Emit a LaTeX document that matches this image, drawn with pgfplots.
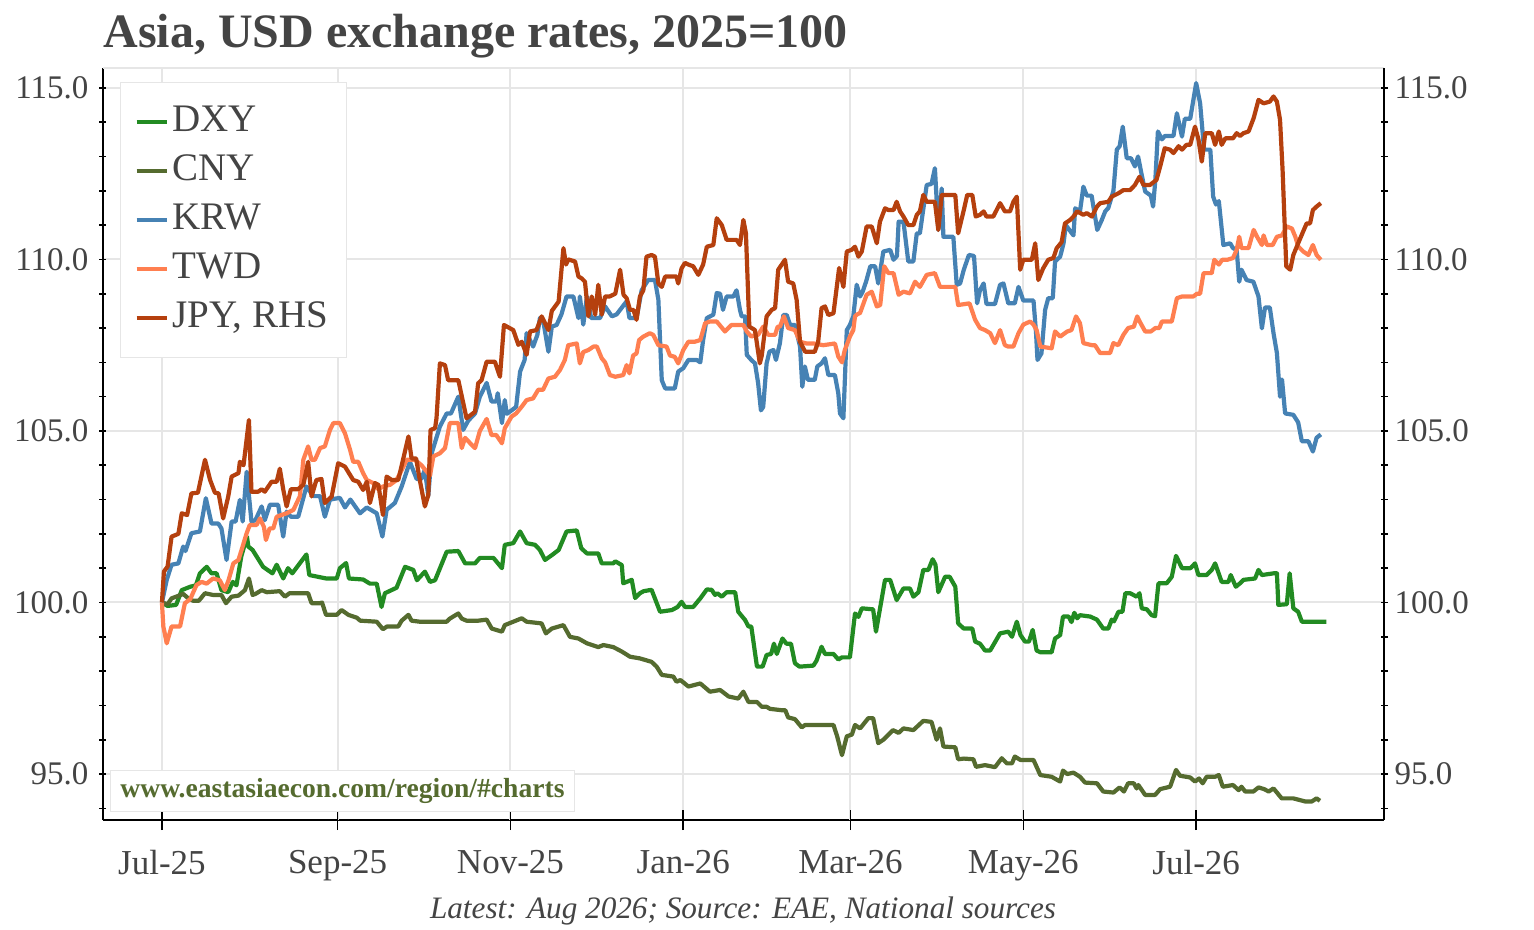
\documentclass[border=0pt]{standalone}
\usepackage{fontspec}
\setmainfont{Liberation Serif}
\usepackage{pgfplots}
\pgfplotsset{compat=1.18}
\usepackage{pgfplotstable}
\definecolor{dxy}{HTML}{228B22}
\definecolor{cny}{HTML}{556B2F}
\definecolor{krw}{HTML}{4682B4}
\definecolor{twd}{HTML}{FF7F50}
\definecolor{jpy}{HTML}{B5400E}
\definecolor{txt}{HTML}{444444}
\definecolor{gridc}{HTML}{E6E6E6}

\pgfplotstableread{
x y
0 100.0
2 99.9
5 99.93
7 100.36
10 100.46
12 100.5
13.4 100.85
15.8 101.04
17.5 100.85
19.3 100.85
21 100.36
23.4 100.3
25 100.6
26.3 100.5
28 101.34
30 101.92
30.5 101.63
32 101.53
35.7 101.04
39 100.85
40.5 101.1
42.8 100.7
44.5 101.0
46 100.85
51 101.4
52 100.8
58 100.7
61.7 100.7
62.8 101.0
65 101.15
66 100.7
71 100.67
73.4 100.55
75.8 100.55
77.5 99.87
78.7 100.27
82.8 100.43
85.8 101.04
88.7 100.95
90 100.65
92.8 100.9
94.6 100.6
96.4 100.65
100.5 101.48
104.6 101.5
107 101.14
110.5 101.14
112.2 101.3
117 101.3
120 101.0
121 101.68
124 101.73
126.4 102.07
128.7 101.73
131.7 101.68
133.4 101.53
135.2 101.24
137.6 101.38
140 101.53
142.8 102.07
146.4 102.1
148 101.58
150 101.43
154 101.43
155.2 101.14
159.3 101.14
160 101.2
162.3 101.09
162.8 100.56
165.8 100.66
167 100.13
168.7 100.27
170 100.33
172.8 100.37
175.8 99.73
180 99.78
182 99.87
183.4 100.02
184.6 99.87
187.5 99.87
190 100.12
192.3 100.38
194 100.37
195.2 100.22
196 100.27
197.6 100.17
199.3 100.3
202.3 100.3
203.4 99.73
205.8 99.49
207 99.3
208 99.3
210 98.13
212 98.13
213.4 98.47
215 98.5
216 98.8
217 98.5
219 98.95
220.4 98.8
222 98.8
223.4 98.23
225 98.13
229.9 98.16
231 98.3
232.8 98.71
234 98.5
237 98.5
238.7 98.34
240 98.4
242.8 98.4
244.6 99.68
245.8 99.58
247 99.83
251 99.8
252 99.15
255.2 100.66
257 100.66
259.3 100.07
261.7 100.41
264 100.41
265.2 100.17
267 100.3
268.7 100.95
270.5 100.95
272 101.26
273 101.1
274 100.3
276.4 100.75
278 100.75
280 100.46
281 99.39
283 99.24
286 99.24
287 98.86
288.7 98.8
290.5 98.6
292.3 98.6
295.8 99.1
298.7 99.15
300 99.0
301.7 99.44
303 99.05
304.6 98.86
306 98.86
307.3 99.2
308.7 98.6
310 98.55
314 98.55
315.2 98.95
317 99.05
318 99.59
320 99.59
321 99.43
322 99.7
323 99.54
324 99.63
327.6 99.59
330 99.5
332.2 99.24
334 99.24
335.2 99.5
336 99.45
337.6 99.73
339 99.73
340 100.27
341.7 100.27
344 100.17
345 100.27
345.8 99.83
347.6 99.8
349.3 99.63
350.5 99.6
351.7 100.56
354.6 100.56
356.4 100.75
357.9 101.36
360 101.0
363 101.0
364.6 101.14
365.8 100.8
368.7 100.8
370.5 100.95
371.7 101.14
374 100.6
376.4 100.6
377.2 100.8
379 100.46
380.5 100.56
381.7 100.66
385.8 100.7
387 100.95
388.2 100.8
392.3 100.85
393.5 100.85
394 99.93
397 99.95
398 100.85
399.3 99.83
401 99.73
402.3 99.44
411 99.44
}\dxy

\pgfplotstableread{
x y
0 100.0
2 99.95
3.4 100.12
6 100.2
7.5 100.25
9.3 100.12
11 100.05
13 100.05
15.2 100.27
18 100.22
21 100.22
22.6 99.98
24.6 100.17
27 100.2
29.3 100.36
30.7 100.7
32 100.22
33 100.25
35.2 100.36
37 100.3
41.6 100.33
43.4 100.17
45 100.27
51.6 100.27
52.8 99.98
55.8 99.98
56.5 100.0
57.9 99.64
61.7 99.64
63.4 99.78
65.8 99.64
68.7 99.56
70 99.47
75.8 99.44
78 99.22
79.4 99.3
83.4 99.3
84.6 99.47
87 99.64
88.1 99.47
91 99.44
100.5 99.44
101.6 99.53
104.6 99.68
105.8 99.53
107.5 99.47
111.6 99.47
114.6 99.5
116.4 99.24
120 99.15
121 99.34
124 99.44
127 99.54
128.7 99.44
134 99.39
135.5 99.1
137.6 99.24
141.7 99.34
144 99.0
147 98.95
150 98.81
154 98.7
155.8 98.76
159.3 98.7
162.3 98.57
165.2 98.42
168.7 98.37
172.8 98.27
174.6 98.13
176.4 97.89
180.5 97.84
181.6 97.69
183 97.74
185.8 97.55
190 97.64
193.4 97.4
197 97.45
200 97.26
203.4 97.2
205.2 97.4
207 97.1
210 97.1
211.7 96.96
213.4 96.96
214.6 96.9
218.7 96.86
220 96.86
221 96.65
223.4 96.6
225.8 96.36
227 96.43
237 96.43
238.3 96.1
240 95.55
241.7 96.1
243.5 96.15
244.6 96.43
246.4 96.33
249.3 96.63
251 96.63
252.8 95.9
254.6 96.0
258 96.28
260 96.2
261.7 96.33
265.2 96.28
268.7 96.55
271.6 96.52
273.4 96.0
274.6 96.33
275.8 95.8
280 95.78
281 95.43
283 95.45
286.4 95.43
287.3 95.21
290.5 95.26
294 95.2
296.4 95.46
298.2 95.31
300 95.31
301 95.51
303 95.41
307.6 95.41
310 94.97
314 94.92
317 94.78
318 95.1
319.5 95.0
321.7 95.04
324 94.92
325.8 94.75
330 94.73
332.2 94.49
335.8 94.46
338 94.61
339.5 94.49
341 94.73
343 94.73
344 94.58
344.6 94.68
347 94.39
350.5 94.39
352.3 94.56
355.8 94.63
357.9 95.12
359.3 94.95
362.9 94.9
364.6 94.78
366 94.87
367.3 94.73
368.7 94.92
371.7 94.92
373 94.97
374.4 94.63
378 94.68
380 94.53
381 94.63
382.3 94.49
385.2 94.49
387 94.61
389 94.56
390.6 94.49
392.3 94.58
395.2 94.29
399.3 94.29
403.5 94.2
405.8 94.2
407.5 94.29
408.7 94.22
}\cny

\pgfplotstableread{
x y
0 100.0
1.7 100.66
3.4 101.1
5.8 101.14
7.5 101.63
8.3 101.5
10.4 102.02
13.4 102.07
15.5 103.04
17.5 102.3
19.9 102.3
21 102.16
22.8 101.24
24.6 102.36
26 102.36
27.5 102.99
28.5 102.36
29.9 103.81
31.6 102.36
33 102.4
35.2 102.8
36.3 102.4
38.1 102.85
41 102.85
42.8 101.92
44 102.65
45.5 102.5
48.1 102.5
51 103.38
53.4 103.1
55.8 103.1
57.5 102.5
59.3 103.0
62.8 103.05
64.6 102.77
66.5 103.0
69.9 102.6
72.3 102.77
75.8 102.6
77.8 101.92
79.3 102.7
82.2 102.9
84.6 103.38
87.5 104.1
89.9 103.6
91.5 103.6
92.8 103.87
94 103.1
95.2 104.35
98.1 105.13
100.5 105.51
102 105.51
104.6 106.0
106.3 105.03
108.1 105.3
110.5 105.51
112.2 106.0
114.6 106.4
116.3 105.86
118 105.86
118.5 106.1
120 105.23
121 105.9
121.7 105.5
123.4 105.6
125 105.7
126.4 106.73
128 107.07
128.7 107.85
131 107.46
132.5 107.8
133.4 108.29
134.5 108.24
136.4 107.31
137.6 108.04
139.3 108.09
141 108.4
142.8 108.92
145.2 108.92
147 108.29
147.5 108.92
148.7 108.1
150 108.92
151.5 108.29
154.6 108.29
156.4 108.63
158.8 108.34
160.5 108.4
164 108.78
165 108.29
167.5 108.29
169.3 109.1
171.6 109.4
174 109.4
175.2 108.83
176.4 106.48
177.6 106.24
181 106.24
182.2 106.73
184 106.83
185.8 107.07
188.7 107.07
190 107.0
191 107.65
192.3 108.29
194.6 108.39
195.8 109.02
197 109.0
198 108.53
199.3 108.92
201.7 108.92
202.8 109.1
204 108.53
204.6 108.34
205.8 108.34
206.4 107.22
208 107.07
209.3 106.97
210.4 106.4
211.4 105.6
212.2 105.7
213.4 106.97
214.4 107.31
215.8 107.36
216.7 107.07
218.1 107.56
219.3 108.38
220.5 108.38
221.7 108.09
223.4 108.09
225.2 107.46
226 106.29
226.9 106.88
228 106.49
230.4 106.49
231.3 106.88
232.8 106.97
234 107.12
235.2 106.63
237.5 106.63
238.7 106.1
239.3 105.51
240.5 105.37
241.7 107.94
242.8 108.09
244 108.34
245.2 109.26
246.4 108.92
247.3 109.06
248.5 109.35
250 109.8
251.7 109.8
252.8 109.3
254.6 110.23
257 110.28
258.2 109.99
259.4 110.1
260 111.1
261.7 111.1
263.4 109.94
265.2 109.94
266.4 110.76
267.5 110.76
269.9 112.17
271.6 112.2
272.8 112.66
274 110.86
275.2 112.07
275.8 110.66
279.3 110.66
280.5 109.26
281.7 109.3
283 109.7
284.8 110.13
286.6 110.1
287.7 108.72
288.7 109.1
290 109.3
291 108.7
294 108.7
295.8 109.26
297 109.3
298.7 108.72
301 108.72
302.3 109.2
304 108.8
307.6 108.8
308.5 107.85
309 107.07
310.4 107.26
311.7 108.53
312.8 108.87
314.4 108.87
315.2 109.94
317 110.08
318.2 110.47
319 111.0
321.7 110.7
322.3 111.49
324 111.4
325.2 112.12
326.4 111.86
328.1 111.86
330.1 110.86
331.7 111.15
332.9 111.4
334 111.5
335.8 112.0
337 113.2
338 113.3
339.1 113.87
340.5 112.95
342 112.95
343.4 112.71
344.5 113.0
345.8 112.46
347 111.98
349 111.86
349.8 111.54
350.6 112.32
351.5 113.73
352.9 113.5
354 113.6
357 113.6
358.2 114.26
360 113.58
361 114.1
362.9 114.1
365 115.14
366.4 114.55
367.8 113.2
370 113.2
371 111.83
372 111.6
373 111.7
374.6 110.42
377 110.47
378 110.33
379.3 110.28
380.2 109.35
381 109.7
382.8 109.4
385.2 109.35
387 108.92
388.2 107.99
389.3 108.6
391 108.6
392.3 107.85
393.5 107.27
394.6 106.0
395.3 106.5
396.4 105.51
399.3 105.47
401 105.25
402.3 104.7
404.6 104.7
406.2 104.4
407.5 104.8
409 104.9
}\krw

\pgfplotstableread{
x y
0 100.0
0.5 99.3
1.7 98.81
3.4 99.3
6.4 99.3
8.1 99.98
10 100.1
12.2 100.51
14 100.6
15.8 100.55
18 100.7
20.4 100.65
22.2 100.36
23.5 100.65
25.2 101.14
27 101.24
28.1 101.53
29.9 102.02
31 102.26
33.4 102.26
34.6 102.45
36 102.2
36.7 101.82
38 102.16
39.3 102.16
40.5 102.5
42.2 102.55
44 102.6
46.4 102.7
48.7 103.1
49.9 104.16
51.6 104.55
52.8 104.16
54 104.16
55.8 104.5
57.5 104.55
59.3 105.03
60.5 105.23
62.8 105.23
64.6 104.93
66.4 104.45
67.5 104.1
69.3 104.1
71 103.77
72.3 103.57
74.6 103.48
76.4 103.3
78 103.38
80.5 103.43
82.8 103.57
84.6 103.86
86.4 104.16
89.3 104.16
91.6 104.0
93 103.86
94.6 103.7
95.8 104.26
98.1 104.35
99.9 104.5
101.6 105.23
104.6 105.23
105.8 104.5
107 104.8
108.7 104.65
110.5 104.5
112.2 105.0
114.6 105.35
116.3 104.88
118 104.88
120 104.64
121 105.08
123.4 105.42
125 105.51
127 105.71
128.7 105.9
131 105.95
132.8 106.2
134.5 106.2
136.4 106.53
138.7 106.58
140.5 106.78
142.2 107.07
143.4 107.5
146.4 107.55
147.5 106.97
148.7 107.3
150.5 107.36
152.3 107.46
153.5 107.46
155.2 107.12
156.4 107.0
158.1 106.63
160 106.58
162.8 106.63
164 106.92
165 106.68
166.3 107.2
167.5 107.26
168.4 107.65
169.9 107.75
172.2 107.85
173.4 107.8
175.2 107.5
178.1 107.46
179.3 107.2
181 107.16
182.2 106.97
184 107.36
185.8 107.6
188 107.6
190 107.65
191.7 108.14
193.4 108.19
195.8 108.19
198.7 107.9
201 108.09
205.2 108.09
206.4 107.9
208 107.75
209.3 107.8
210.4 107.8
212.2 108.04
214 107.8
216.4 107.8
217.3 108.04
218.1 108.04
219.5 108.34
221 108.0
223.4 107.94
225.2 107.6
227.5 107.55
230 107.55
233.4 107.5
237.5 107.55
238.7 107.17
240 107.0
241 107.36
242.8 107.75
244 107.94
244.6 108.34
245.2 108.39
246.4 108.44
248.7 108.97
250.5 109.06
252.3 108.63
253.5 108.67
254.9 109.8
256.4 109.6
258.2 109.6
260 108.97
261.7 109.06
264 109.01
265.8 109.35
267.5 109.2
269.9 109.55
272.8 109.6
274.6 109.2
280 109.2
281 108.67
285 108.72
287 108.24
288.7 108.0
290.5 107.94
292.3 107.85
294 107.56
295.8 107.94
297.5 107.5
298.7 107.46
300.5 107.46
302.3 107.85
304 108.1
306.4 108.19
307.6 108.1
308.7 107.94
310 107.46
314 107.41
315.2 107.9
317 107.75
319.5 107.9
321 107.94
322.6 108.34
324 108.14
325.2 107.56
328.2 107.5
329.3 107.5
331.1 107.27
334.6 107.27
335.8 107.56
337.5 107.5
339.3 107.8
341 108.0
343 108.04
344.2 108.34
345 108.2
347 107.9
349 107.9
350.6 108.0
352 108.0
352.9 108.19
356.4 108.19
358.2 108.87
360 108.92
364 108.92
365.3 109.0
366.4 109.0
367.6 109.6
370.5 109.6
371.4 109.99
373 109.85
374.2 109.99
376 109.99
378 110.04
379.3 110.28
380.2 110.66
381 110.33
383.5 110.33
385.3 110.86
386.5 110.66
388.2 110.42
388.8 110.7
390 110.42
392 110.42
393.5 110.66
395.3 110.7
397 110.96
398.8 110.9
400 110.66
401 110.38
402.8 110.23
404.6 110.13
406.2 110.42
407.5 110.13
409 109.99
}\twd

\pgfplotstableread{
x y
0 100.0
0.7 100.9
2 101.05
3.4 101.92
5.8 102.0
7 102.6
8.9 102.55
10.4 103.18
12.7 103.2
15.2 104.16
17 103.57
18.7 103.2
20 103.18
21.6 102.45
23.4 103.09
24.6 103.67
27 103.77
27.5 104.1
28.8 104.0
30.7 105.32
31.6 103.23
34 103.23
35.2 103.3
36.3 103.23
38.7 103.52
40.5 103.52
41.6 103.9
42.8 103.3
44 102.8
45.5 103.3
48 103.3
49.9 103.43
51.6 104.1
52.8 103.09
54.5 103.57
56.3 103.6
57.5 102.9
59.9 103.09
62.2 104.06
64.6 103.96
67.5 103.57
69.3 103.52
71 103.28
72.3 103.52
73.4 102.9
75.2 103.48
76.4 103.43
78 102.55
79.3 103.67
81.1 103.57
83.4 103.57
85.2 104.2
87 104.84
88.1 104.2
89.7 104.2
91 103.57
92.8 102.8
94 103.13
94.8 105.03
96.4 105.08
96.9 105.37
98.1 106.97
99.9 106.92
101 106.48
104.6 106.48
107.5 105.37
110.5 105.56
111.6 106.39
112.8 106.48
114.6 107.02
117.5 107.02
119.3 106.58
120.7 108.09
124 107.94
125.8 107.51
127 107.6
128.7 107.22
129.9 107.9
132.2 107.94
134 108.34
135.2 108.14
136.4 107.94
137.6 108.5
140 108.77
141.7 110.33
142.6 109.85
143.4 110.0
145.8 109.94
147 109.5
148.1 109.45
149.3 109.35
150.5 108.34
151.7 108.92
152.9 108.39
154 109.26
155.2 108.39
156.4 108.92
158 108.92
160 109.0
161.7 109.7
162.9 108.97
164 108.87
165.2 108.53
166.4 108.53
167.5 108.24
168.7 108.92
169.9 109.1
171 110.08
172.8 110.13
174 110.08
175.2 109.3
176.4 109.2
177.6 109.5
181.6 109.5
182.2 109.3
183.4 109.74
184.6 109.9
185.8 109.85
187.5 109.8
189.3 109.55
191 109.85
192.3 110.37
194.6 110.42
195.8 111.2
197.6 111.0
199.3 110.57
202.8 110.57
204 110.42
205.2 111.15
206.1 110.76
207.3 108.04
209.3 107.94
211 106.97
211.7 107.2
213.4 108.34
215.2 108.53
216.4 108.58
217.5 109.7
219.9 109.99
221 109.35
222.8 109.3
224 108.82
225.2 107.6
227 107.31
230.4 107.31
231.6 107.6
232.8 108.58
234 108.63
235.2 108.38
237 108.43
239 109.75
240.5 109.2
241.7 110.23
243.4 110.28
244.6 110.37
245.8 110.08
247 110.23
248.7 110.96
250.5 110.96
252.3 110.47
253.4 111.1
255.2 111.49
256.4 111.44
258.2 111.44
259.3 111.68
260.5 111.4
261.7 111.25
263.4 111.0
265.2 111.0
266.4 111.3
267.5 111.4
268.7 111.88
269.9 111.68
272.8 111.68
274 110.86
275.2 111.88
280 111.88
281 110.76
283 111.44
284.2 111.88
286 111.88
287.2 111.25
288.7 111.3
290 111.4
291 111.25
293.4 111.25
295.8 111.64
297.5 111.4
299.3 111.4
300.5 111.68
301.7 111.83
302.9 109.7
304 109.99
307 109.99
308.2 110.47
309.3 109.4
311 109.74
312.8 109.99
314.6 110.04
315.8 110.33
317.5 110.5
318.7 111.05
320.5 111.15
321.7 111.25
323 111.4
325.2 111.3
326.4 111.35
328.2 111.25
330 111.54
331.1 111.64
334 111.68
335.2 111.83
337.6 111.93
339.3 112.02
341.7 112.02
343.4 112.17
345 112.41
346.4 112.17
348.7 112.17
351 112.32
352.3 112.71
353.9 113.24
355.8 113.2
357 113.1
358.8 113.3
360 113.2
361.6 113.34
362.9 113.34
364.6 113.87
365.8 113.5
367 112.85
368.2 113.68
370.5 113.68
371.7 113.34
373 113.73
374 113.34
375.3 113.53
378 113.53
379.3 113.68
380.5 113.6
381.7 113.68
383.5 113.73
385.3 114.12
387 114.65
388.8 114.55
391 114.6
392.3 114.75
393.5 114.6
394.6 114.07
395.5 112.61
396.8 109.8
398.2 109.7
399.3 110.13
401 110.47
403 110.86
404 111.05
405.2 111.05
406.2 111.44
407.5 111.54
409 111.64
}\jpy

\pgfplotsset{
  common/.style={
    at={(0pt,0pt)}, anchor=south west,
    width=640.5pt, height=376pt, scale only axis,
    xmin=-20.8, xmax=431.3, ymin=93.66, ymax=115.58,
    axis line style={-, black, line width=0.8pt},
    tick style={black, line width=0.8pt},
    tick align=center,
    major tick length=3.5pt, minor tick length=3.5pt,
    ytick={95,100,105,110,115},
    minor ytick={94,96,97,98,99,101,102,103,104,106,107,108,109,111,112,113,114},
    tick label style={font=\fontsize{16.5}{18}\selectfont, text=txt},
    /pgf/number format/assume math mode=true,
    yticklabel style={/pgf/number format/fixed, /pgf/number format/fixed zerofill, /pgf/number format/precision=1},
  },
  ser/.style={line width=2.1pt, line join=round},
}

\begin{document}
\begin{tikzpicture}
\path[use as bounding box] (-51.5pt,-55pt) rectangle (715.5pt,410pt);
\begin{axis}[common,
  axis x line*=bottom, axis y line*=left,
  xtick=\empty,
  extra x ticks={0,62,123,184,243,304,365},
  extra x tick labels={Jul-25,Sep-25,Nov-25,Jan-26,Mar-26,May-26,Jul-26},
  extra x tick style={major tick length=10pt, grid=major, major grid style={gridc, line width=1pt},
    xticklabel style={font=\fontsize{17.5}{19}\selectfont, yshift=-6.5pt}},
  minor xtick={31,92,153,215,274,335,396},
  ymajorgrids=true,
  major grid style={gridc, line width=1pt},
  yticklabel style={xshift=-2pt},
  legend image code/.code={\draw[#1] (0pt,0pt) -- (15pt,0pt);},
  legend style={at={(0.0133,0.981)}, anchor=north west, draw=gridc, fill=white,
    font=\fontsize{19.5}{21}\selectfont, text=txt, row sep=2pt,
    inner xsep=7pt, inner ysep=8.5pt,
    nodes={text height=14pt, text depth=4.5pt, inner ysep=2pt}},
  legend cell align=left,
]
\draw[gridc, line width=1pt] (rel axis cs:0,1) -- (rel axis cs:1,1);
\addplot[ser, dxy] table {\dxy};
\addlegendentry{DXY}
\addplot[ser, cny] table {\cny};
\addlegendentry{CNY}
\addplot[ser, krw] table {\krw};
\addlegendentry{KRW}
\addplot[ser, twd] table {\twd};
\addlegendentry{TWD}
\addlegendimage{ser, jpy}
\addlegendentry{JPY, RHS}
\node[anchor=south west, draw=gridc, fill=white, inner xsep=5pt, inner ysep=4pt,
  font=\bfseries\fontsize{13.8}{15}\selectfont, text=cny]
  at (rel axis cs:0.0055,0.0106) {www.eastasiaecon.com/region/\#charts};
\end{axis}
\begin{axis}[common,
  axis x line=none, axis y line*=right,
]
\addplot[ser, jpy] table {\jpy};
\end{axis}
\node[anchor=base west, inner sep=0pt, font=\bfseries\fontsize{24}{27}\selectfont, text=txt] at (0pt,386pt) {Asia, USD exchange rates, 2025=100};
\node[anchor=base, font=\itshape\fontsize{15.6}{17}\selectfont, text=txt] at (320pt,-49pt) {Latest: Aug 2026; Source: EAE, National sources};
\end{tikzpicture}
\end{document}
